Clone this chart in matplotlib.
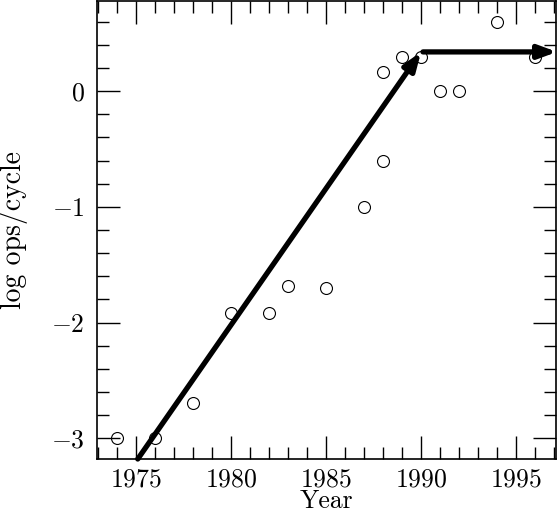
import numpy as np
import matplotlib
matplotlib.use("Agg")
import matplotlib.pyplot as plt
from matplotlib.ticker import MultipleLocator

plt.rcParams['font.family'] = 'serif'
plt.rcParams['font.serif'] = ['cmr10', 'DejaVu Serif']
plt.rcParams['mathtext.fontset'] = 'cm'
plt.rcParams['axes.formatter.use_mathtext'] = True

# measured points
years = [1974, 1976, 1978, 1980, 1982, 1983, 1985, 1987, 1988, 1988, 1989, 1990, 1991, 1992, 1994, 1996]
logops = [-3.0, -3.0, -2.7, -1.92, -1.92, -1.68, -1.70, -1.0, -0.6, 0.17, 0.3, 0.3, 0.0, 0.0, 0.6, 0.3]

# trend arrows (start, end)
trend_x = [1975.1, 1990.0, 1997.15]
trend_y = [-3.18, 0.34, 0.34]

fig = plt.figure(figsize=(5.6, 5.12), dpi=100)
ax = fig.add_axes([0.173, 0.1035, 0.82, 0.8945])

ax.plot(years, logops, 'o', ms=8.6, mfc='none', mec='k', mew=0.8)

#diagonal arrow
ax.annotate('', xy=(trend_x[1], trend_y[1]), xytext=(trend_x[0], trend_y[0]),
            arrowprops=dict(arrowstyle='-|>,head_length=0.38,head_width=0.14',
                            lw=3.8, color='k', mutation_scale=28,
                            shrinkA=0, shrinkB=0))
#flat arrow
ax.annotate('', xy=(trend_x[2], trend_y[2]), xytext=(trend_x[1] + 0.1, trend_y[1]),
            arrowprops=dict(arrowstyle='-|>,head_length=0.38,head_width=0.14',
                            lw=3.8, color='k', mutation_scale=28,
                            shrinkA=0, shrinkB=0),
            annotation_clip=False)

ax.set_xlim(1972.95, 1997.1)
ax.set_ylim(-3.18, 0.78)

ax.xaxis.set_major_locator(MultipleLocator(5))
ax.xaxis.set_minor_locator(MultipleLocator(1))
ax.yaxis.set_major_locator(MultipleLocator(1))
ax.yaxis.set_minor_locator(MultipleLocator(0.2))

ax.tick_params(which='both', direction='in', top=True, right=True, width=1.0, labelsize=18.5)
ax.tick_params(which='major', length=16.5)
ax.tick_params(which='minor', length=8.6)
ax.tick_params(axis='x', pad=6)
ax.tick_params(axis='y', pad=9)
for s in ax.spines.values():
    s.set_linewidth(1.2)

ax.set_xlabel('Year', fontsize=18.5, labelpad=-1.5)
ax.set_ylabel('log ops/cycle', fontsize=20, labelpad=16)

fig.savefig('out.png', dpi=100)
